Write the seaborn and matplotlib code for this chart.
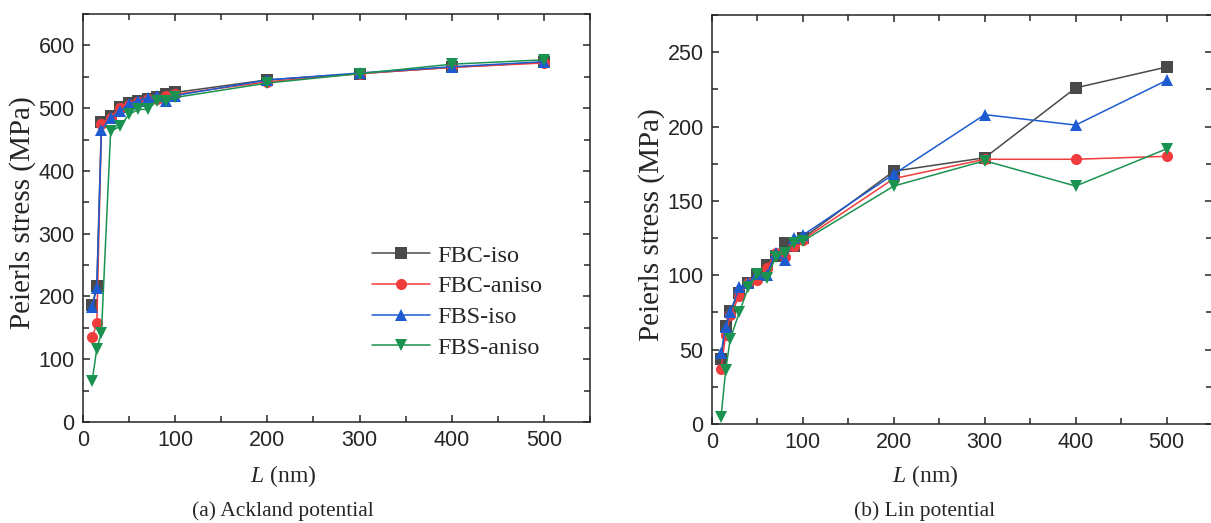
import numpy as np
import pandas as pd
import seaborn as sns
import matplotlib.pyplot as plt
from matplotlib.ticker import MultipleLocator

# Dislocation line length L (nm)
L_nm = [10, 15, 20, 30, 40, 50, 60, 70, 80, 90, 100, 200, 300, 400, 500]

# (a) Ackland potential, Peierls stress (MPa)
ack_fbc_iso   = [186, 217, 478, 488, 502, 508, 511, 515, 518, 522, 525, 545, 555, 565, 573]
ack_fbc_aniso = [135, 157, 475, 485, 500, 505, 510, 515, 515, 520, 522, 542, 555, 565, 572]
ack_fbs_iso   = [183, 214, 465, 484, 495, 507, 512, 516, 519, 511, 520, 545, 556, 566, 574]
ack_fbs_aniso = [66, 117, 142, 463, 471, 490, 498, 498, 511, 511, 517, 540, 555, 570, 577]

# (b) Lin potential
lin_fbc_iso   = [44, 66, 76, 88, 95, 100, 107, 113, 122, 120, 125, 170, 179, 226, 240]
lin_fbc_aniso = [37, 60, 73, 86, 95, 97, 105, 115, 112, 120, 124, 165, 178, 178, 180]
lin_fbs_iso   = [48, 65, 75, 92, 95, 101, 100, 115, 110, 125, 127, 168, 208, 201, 231]
lin_fbs_aniso = [5, 36, 57, 75, 92, 101, 98, 112, 115, 122, 123, 160, 177, 160, 185]

series = ["FBC-iso", "FBC-aniso", "FBS-iso", "FBS-aniso"]
colors = {"FBC-iso": "#4a4a4a", "FBC-aniso": "#f03c3c",
          "FBS-iso": "#1c5bd0", "FBS-aniso": "#1a9350"}
markers = {"FBC-iso": "s", "FBC-aniso": "o", "FBS-iso": "^", "FBS-aniso": "v"}


def to_long(vals):
    rows = []
    for name, v in zip(series, vals):
        for x, y in zip(L_nm, v):
            rows.append({"L": x, "stress": y, "case": name})
    return pd.DataFrame(rows)


df_a = to_long([ack_fbc_iso, ack_fbc_aniso, ack_fbs_iso, ack_fbs_aniso])
df_b = to_long([lin_fbc_iso, lin_fbc_aniso, lin_fbs_iso, lin_fbs_aniso])

sns.set_style("ticks")
plt.rcParams["font.family"] = ["Liberation Sans", "DejaVu Sans"]
plt.rcParams["mathtext.fontset"] = "custom"
plt.rcParams["mathtext.it"] = "Liberation Serif:italic"
plt.rcParams["mathtext.rm"] = "Liberation Serif"
serif = ["Liberation Serif", "DejaVu Serif"]

W, H = 1211, 523
fig = plt.figure(figsize=(W / 100, H / 100), dpi=100)
ax1 = fig.add_axes([83 / W, 1 - 422 / H, (590 - 83) / W, (422 - 14) / H])
ax2 = fig.add_axes([712 / W, 1 - 424 / H, (1212 - 712) / W, (424 - 15) / H])

for ax, d in [(ax1, df_a), (ax2, df_b)]:
    sns.lineplot(data=d, x="L", y="stress", hue="case", style="case",
                 hue_order=series, style_order=series, palette=colors,
                 markers=markers, dashes=False, markersize=8,
                 markeredgewidth=0, linewidth=1.1, ax=ax, legend=(ax is ax1))
    ax.set_xlim(0, 550)
    ax.xaxis.set_major_locator(MultipleLocator(100))
    ax.xaxis.set_minor_locator(MultipleLocator(50))
    ax.tick_params(which="both", direction="in", top=True, right=True,
                   width=1.1, labelsize=15.5, pad=6)
    ax.tick_params(which="major", length=5)
    ax.tick_params(which="minor", length=4)
    for s in ax.spines.values():
        s.set_linewidth(1.1)
    ax.set_xlabel("")
    ax.set_ylabel("")

ax1.set_ylim(0, 650)
ax1.yaxis.set_major_locator(MultipleLocator(100))
ax1.yaxis.set_minor_locator(MultipleLocator(50))
ax2.set_ylim(0, 275)
ax2.yaxis.set_major_locator(MultipleLocator(50))
ax2.yaxis.set_minor_locator(MultipleLocator(25))

leg = ax1.legend(loc="upper left", bbox_to_anchor=(0.57, 0.435), frameon=False,
                 prop={"family": serif, "size": 17.5}, handlelength=2.4,
                 labelspacing=0.36, handletextpad=0.3, borderaxespad=0,
                 borderpad=0, markerscale=1.0)

for cx, lab in [(283, "(a) Ackland potential"), (925, "(b) Lin potential")]:
    fig.text(cx / W, 1 - 476 / H, r"$L$ (nm)", ha="center", va="center",
             family=serif, size=17)
    fig.text(cx / W, 1 - 511 / H, lab, ha="center", va="center",
             family=serif, size=15.5)

fig.text(23 / W, 1 - 213 / H, "Peierls stress (MPa)", rotation=90,
         ha="center", va="center", family=serif, size=21)
fig.text(652 / W, 1 - 225 / H, "Peierls stress (MPa)", rotation=90,
         ha="center", va="center", family=serif, size=21)

fig.savefig("out.png", dpi=100)
